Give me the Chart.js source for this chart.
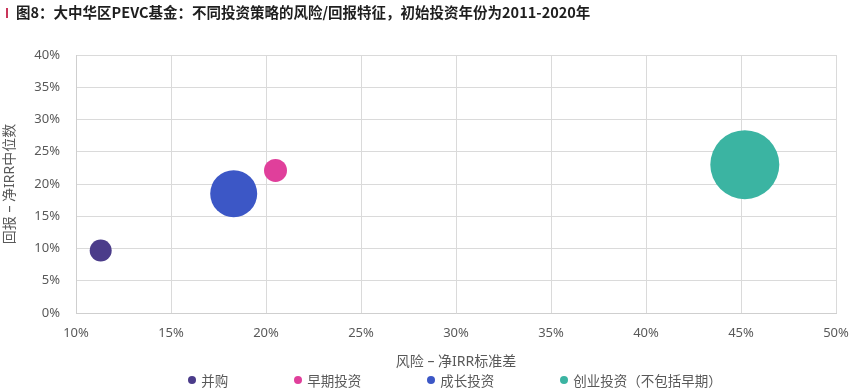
<!DOCTYPE html>
<html>
<head>
<meta charset="utf-8">
<script src="https://cdn.jsdelivr.net/npm/chart.js@4"></script>
<style>
  html, body { margin: 0; padding: 0; background: #fff; }
  body { width: 851px; height: 388px; position: relative; overflow: hidden;
         font-family: "Noto Sans", "Noto Sans CJK SC", sans-serif; }
  #title { position: absolute; left: 6px; top: 3px; font-size: 14.5px; font-weight: bold;
           color: #1e1e1e; line-height: 18px; font-family: "Noto Sans CJK SC", sans-serif;
           padding-left: 10px; }
  #title:before { content: ""; position: absolute; left: 0; top: 5px; width: 2px; height: 10px; background: #c9365a; }
  #wrap { position: absolute; left: 0; top: 0; width: 851px; height: 388px; }
  #legend { position: absolute; left: 0; width: 910px; top: 371px; display: flex; justify-content: center;
            font-size: 13.5px; color: #595959; line-height: 18px; font-family: "Noto Sans CJK SC", sans-serif; }
  #legend span.item { display: flex; align-items: center; margin: 0 33px; }
  #legend span.dot { width: 8px; height: 8px; border-radius: 50%; margin-right: 5px; }
</style>
</head>
<body>
<div id="wrap"><canvas id="bubblechart"></canvas></div>
<div id="title">图8：大中华区PEVC基金：不同投资策略的风险/回报特征，初始投资年份为2011-2020年</div>
<div id="legend"></div>
<script>
// strategies and their values (risk = std dev of net IRR, return = median net IRR)
var strategies = ["并购", "早期投资", "成长投资", "创业投资（不包括早期）"];
var riskStd = [11.3, 20.5, 18.3, 45.2];
var medianIrr = [9.7, 22.1, 18.5, 23.0];
var bubbleSize = [11, 11.5, 23.5, 34.5];
var xTicks = [10, 15, 20, 25, 30, 35, 40, 45, 50];
var yTicks = [0, 5, 10, 15, 20, 25, 30, 35, 40];

var colors = ["#4b3c8a", "#e03f9b", "#3c57c6", "#3bb4a2"];
var fontFam = "'Noto Sans', 'Noto Sans CJK SC', sans-serif";
var gridCol = "#dadada";

var datasets = strategies.map(function (s, i) {
    return {
        label: s,
        data: [{ x: riskStd[i], y: medianIrr[i], r: bubbleSize[i] }],
        backgroundColor: colors[i],
        borderWidth: 0,
        hoverBorderWidth: 0
    };
});

var ctx = document.getElementById("bubblechart").getContext("2d");
new Chart(ctx, {
    type: "bubble",
    data: { datasets: datasets },
    options: {
        animation: false,
        responsive: true,
        maintainAspectRatio: false,
        layout: { autoPadding: false, padding: { top: 55, right: 15, left: 0, bottom: 18 } },
        plugins: {
            legend: { display: false },
            tooltip: { enabled: false }
        },
        scales: {
            x: {
                type: "linear",
                min: xTicks[0],
                max: xTicks[xTicks.length - 1],
                afterBuildTicks: function (a) { a.ticks = xTicks.map(function (v) { return { value: v }; }); },
                afterFit: function (a) { a.height = 57; a.paddingRight = 0; a.paddingLeft = 0; },
                grid: { color: gridCol, drawTicks: false },
                border: { color: "#cfcfcf" },
                ticks: {
                    padding: 12,
                    color: "#595959",
                    font: { family: fontFam, size: 13 },
                    callback: function (v) { return v + "%"; }
                },
                title: {
                    display: true,
                    text: "风险 – 净IRR标准差",
                    color: "#595959",
                    font: { family: fontFam, size: 14 },
                    padding: { top: 0, bottom: 0 }
                }
            },
            y: {
                type: "linear",
                min: yTicks[0],
                max: yTicks[yTicks.length - 1],
                afterBuildTicks: function (a) { a.ticks = yTicks.map(function (v) { return { value: v }; }); },
                afterFit: function (a) { a.width = 76; },
                grid: { color: gridCol, drawTicks: false },
                border: { color: "#cfcfcf" },
                ticks: {
                    padding: 16,
                    color: "#595959",
                    font: { family: fontFam, size: 13 },
                    callback: function (v) { return v + "%"; }
                },
                title: {
                    display: true,
                    text: "回报 – 净IRR中位数",
                    color: "#595959",
                    font: { family: fontFam, size: 14 },
                    padding: { top: 2, bottom: 0 }
                }
            }
        }
    }
});

// legend built from the same series list
var lg = document.getElementById("legend");
strategies.forEach(function (s, i) {
    var item = document.createElement("span");
    item.className = "item";
    var dot = document.createElement("span");
    dot.className = "dot";
    dot.style.background = colors[i];
    item.appendChild(dot);
    item.appendChild(document.createTextNode(s));
    lg.appendChild(item);
});
</script>
</body>
</html>
